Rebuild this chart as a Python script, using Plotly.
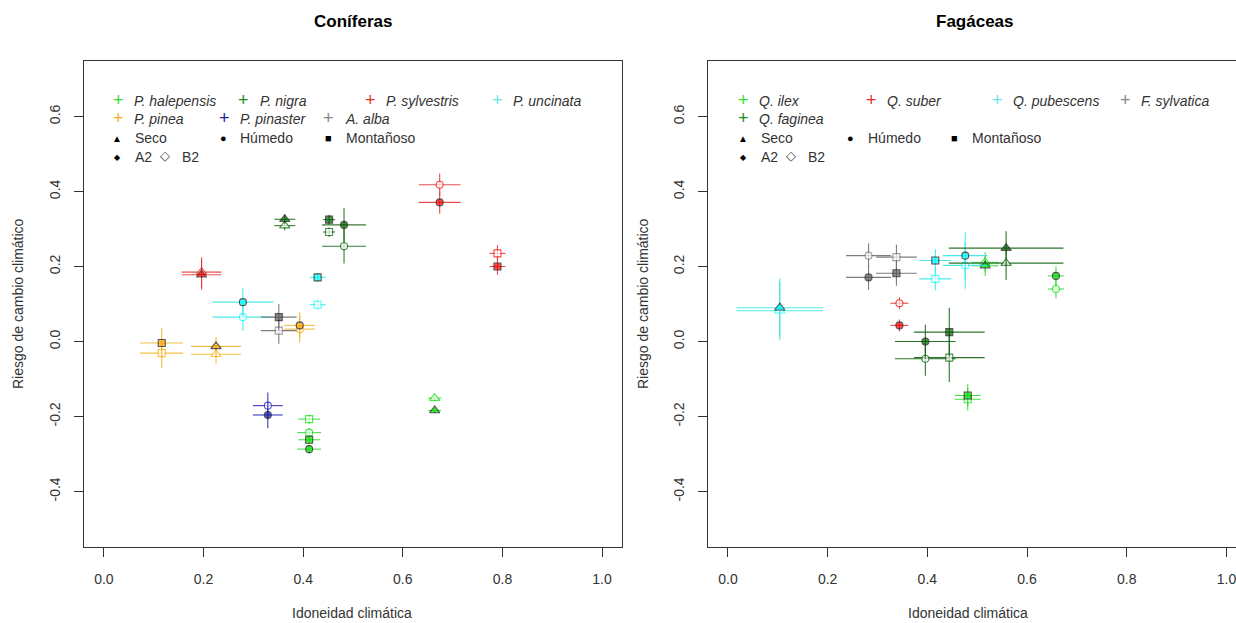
import plotly.graph_objects as go

W, H = 1236, 623

# ---------------- data: Coníferas ----------------
con_species = ["P. halepensis", "P. nigra", "P. sylvestris", "P. uncinata",
               "P. pinea", "P. pinaster", "A. alba"]
con_sp = ["P. halepensis"] * 3 + ["P. nigra"] * 3 + ["P. sylvestris"] * 3 + \
         ["P. uncinata"] * 2 + ["P. pinea"] * 3 + ["P. pinaster"] + ["A. alba"]
con_region = ["Seco", "Húmedo", "Montañoso", "Seco", "Húmedo", "Montañoso",
              "Seco", "Húmedo", "Montañoso", "Húmedo", "Montañoso",
              "Seco", "Húmedo", "Montañoso", "Húmedo", "Montañoso"]
con_x = [0.664, 0.412, 0.412, 0.363, 0.482, 0.452, 0.196, 0.674, 0.790,
         0.279, 0.429, 0.225, 0.393, 0.116, 0.329, 0.351]
con_y_a2 = [-0.184, -0.287, -0.262, 0.326, 0.311, 0.325, 0.178, 0.371, 0.200,
            0.105, 0.171, -0.013, 0.043, -0.004, -0.196, 0.065]
con_y_b2 = [-0.151, -0.243, -0.207, 0.309, 0.254, 0.292, 0.185, 0.418, 0.235,
            0.065, 0.098, -0.034, 0.033, -0.031, -0.171, 0.029]
con_x_err = [0.013, 0.024, 0.022, 0.021, 0.044, 0.012, 0.040, 0.042, 0.016,
             0.061, 0.016, 0.050, 0.031, 0.043, 0.030, 0.036]
con_y_err = [0.008, 0.012, 0.012, 0.012, 0.046, 0.013, 0.040, 0.030, 0.022,
             0.037, 0.012, 0.025, 0.035, 0.040, 0.035, 0.035]

# ---------------- data: Fagáceas ----------------
fag_species = ["Q. ilex", "Q. suber", "Q. pubescens", "F. sylvatica", "Q. faginea"]
fag_sp = ["Q. ilex"] * 3 + ["Q. suber"] + ["Q. pubescens"] * 3 + \
         ["F. sylvatica"] * 2 + ["Q. faginea"] * 3
fag_region = ["Seco", "Húmedo", "Montañoso", "Húmedo", "Seco", "Húmedo", "Montañoso",
              "Húmedo", "Montañoso", "Seco", "Húmedo", "Montañoso"]
fag_x = [0.516, 0.658, 0.481, 0.344, 0.104, 0.476, 0.416, 0.282, 0.338, 0.558, 0.396, 0.444]
fag_y_a2 = [0.202, 0.175, -0.144, 0.043, 0.090, 0.229, 0.216, 0.171, 0.182, 0.249, 0.000, 0.025]
fag_y_b2 = [0.211, 0.140, -0.154, 0.102, 0.082, 0.203, 0.167, 0.229, 0.225, 0.209, -0.046, -0.043]
fag_x_err = [0.027, 0.016, 0.026, 0.018, 0.087, 0.045, 0.032, 0.045, 0.041, 0.115, 0.061, 0.071]
fag_y_err = [0.027, 0.025, 0.030, 0.016, 0.078, 0.062, 0.030, 0.033, 0.033, 0.045, 0.045, 0.065]

tick_vals_x = [0.0, 0.2, 0.4, 0.6, 0.8, 1.0]
tick_text_x = ["0.0", "0.2", "0.4", "0.6", "0.8", "1.0"]
tick_vals_y = [-0.4, -0.2, 0.0, 0.2, 0.4, 0.6]
tick_text_y = ["-0.4", "-0.2", "0.0", "0.2", "0.4", "0.6"]

# ---------------- styles ----------------
fill_col = {
    "P. halepensis": "#00E000", "P. nigra": "#006400", "P. sylvestris": "#FF0000",
    "P. uncinata": "#00FFFF", "P. pinea": "#FFA500", "P. pinaster": "#1A1AB0",
    "A. alba": "#5A5A5A",
    "Q. ilex": "#00E000", "Q. suber": "#FF0000", "Q. pubescens": "#00FFFF",
    "F. sylvatica": "#5A5A5A", "Q. faginea": "#006400",
}
line_col = {
    "P. halepensis": "rgba(40,220,40,0.85)", "P. nigra": "rgba(20,100,20,0.85)",
    "P. sylvestris": "rgba(225,50,50,0.85)", "P. uncinata": "rgba(60,230,230,0.9)",
    "P. pinea": "rgba(240,185,50,0.9)", "P. pinaster": "rgba(40,40,180,0.9)",
    "A. alba": "rgba(110,110,110,0.9)",
    "Q. ilex": "rgba(40,220,40,0.85)", "Q. suber": "rgba(225,50,50,0.85)",
    "Q. pubescens": "rgba(60,230,230,0.9)", "F. sylvatica": "rgba(110,110,110,0.9)",
    "Q. faginea": "rgba(20,100,20,0.9)",
}
legend_col = {
    "P. halepensis": "#33DD33", "P. nigra": "#228B22", "P. sylvestris": "#E03030",
    "P. uncinata": "#66E8E8", "P. pinea": "#F0B030", "P. pinaster": "#2020A0",
    "A. alba": "#888888",
    "Q. ilex": "#33DD33", "Q. suber": "#E03030", "Q. pubescens": "#66E8E8",
    "F. sylvatica": "#888888", "Q. faginea": "#228B22",
}
symbol_of = {"Seco": "triangle-up", "Húmedo": "circle", "Montañoso": "square"}
size_of = {"Seco": 9, "Húmedo": 7, "Montañoso": 7}

FONT = "Liberation Sans, Arial, sans-serif"
TXT = "#333333"

fig = go.Figure()


def add_panel(species, sp, region, xs, ya2, yb2, xerr, yerr, xa, ya):
    for s in species:
        idx = [i for i, v in enumerate(sp) if v == s]
        for scen, yv in (("B2", yb2), ("A2", ya2)):
            filled = scen == "A2"
            if filled:
                edge = "#111111"
            elif s in ("A. alba", "F. sylvatica"):
                edge = "#777777"
            else:
                edge = fill_col[s]
            fig.add_trace(go.Scatter(
                x=[xs[i] for i in idx], y=[yv[i] for i in idx],
                xaxis=xa, yaxis=ya, mode="markers", showlegend=False,
                name=f"{s} {scen}",
                marker=dict(
                    symbol=[symbol_of[region[i]] for i in idx],
                    size=[size_of[region[i]] for i in idx],
                    color=fill_col[s] if filled else "white",
                    line=dict(color=edge, width=1.1),
                ),
                error_x=dict(type="data", array=[xerr[i] for i in idx], visible=True,
                             color=line_col[s], thickness=1.1, width=0),
                error_y=dict(type="data", array=[yerr[i] for i in idx], visible=True,
                             color=line_col[s], thickness=1.1, width=0),
            ))


add_panel(con_species, con_sp, con_region, con_x, con_y_a2, con_y_b2,
          con_x_err, con_y_err, "x", "y")
add_panel(fag_species, fag_sp, fag_region, fag_x, fag_y_a2, fag_y_b2,
          fag_x_err, fag_y_err, "x2", "y2")

annotations = []


def ann(px, py, text, color=TXT, size=14, italic=False, bold=False,
        xanchor="left", angle=0):
    t = text
    if italic:
        t = f"<i>{t}</i>"
    if bold:
        t = f"<b>{t}</b>"
    annotations.append(dict(
        x=px / W, y=1 - py / H, xref="paper", yref="paper", text=t,
        showarrow=False, xanchor=xanchor, yanchor="middle", textangle=angle,
        font=dict(family=FONT, size=size, color=color),
    ))


def plus(px, py, s):
    ann(px, py, "+", color=legend_col[s], size=18, xanchor="center")


# legend
r1, r2, r3, r4 = 101, 119, 138, 157
con_leg = [("P. halepensis", 118, r1), ("P. nigra", 244, r1), ("P. sylvestris", 370, r1),
           ("P. uncinata", 497, r1), ("P. pinea", 118, r2), ("P. pinaster", 224, r2),
           ("A. alba", 329, r2)]
for s, px, py in con_leg:
    plus(px, py - 1, s)
    ann(px + 14, py, s, italic=True)
fag_leg = [("Q. ilex", 743, r1), ("Q. suber", 871, r1), ("Q. pubescens", 997, r1),
           ("F. sylvatica", 1125, r1), ("Q. faginea", 743, r2)]
for s, px, py in fag_leg:
    plus(px, py - 1, s)
    ann(px + 14, py, s, italic=True)

for x0, xh, xm in ((117, 223, 329), (743, 851, 955)):
    ann(x0, r3, "▲", color="black", size=10, xanchor="center")
    ann(x0 + 16, r3, "Seco")
    ann(xh, r3, "●", color="black", size=11, xanchor="center")
    ann(xh + 15, r3, "Húmedo")
    ann(xm, r3, "■", color="black", size=11, xanchor="center")
    ann(xm + 15, r3, "Montañoso")
for x0, xb in ((117, 165), (743, 791)):
    ann(x0, r4, "◆", color="black", size=8, xanchor="center")
    ann(x0 + 16, r4, "A2")
    ann(xb, r4 - 2, "◇", color="#444444", size=13, xanchor="center")
    ann(xb + 15, r4, "B2")

# titles and axis labels
ann(353, 22, "Coníferas", color="black", size=17, bold=True, xanchor="center")
ann(975, 22, "Fagáceas", color="black", size=17, bold=True, xanchor="center")
ann(352, 613, "Idoneidad climática", size=14, xanchor="center")
ann(968, 613, "Idoneidad climática", size=14, xanchor="center")
ann(18, 304, "Riesgo de cambio climático", size=14, xanchor="center", angle=-90)
ann(643, 304, "Riesgo de cambio climático", size=14, xanchor="center", angle=-90)

ydom = [1 - 547 / H, 1 - 61 / H]
common_x = dict(tickvals=tick_vals_x, ticktext=tick_text_x, showgrid=False, zeroline=False,
                showline=True, linecolor="#333333", linewidth=1, ticks="outside",
                ticklen=9, tickcolor="#333333", tickwidth=1,
                tickfont=dict(family=FONT, size=14, color=TXT), automargin=False,
                ticklabelstandoff=10, ticklabeloverflow="allow")
common_y = dict(tickvals=tick_vals_y, ticktext=tick_text_y, showgrid=False, zeroline=False,
                showline=True, linecolor="#333333", linewidth=1, ticks="outside",
                ticklen=9, tickcolor="#333333", tickwidth=1, tickangle=-90,
                tickfont=dict(family=FONT, size=14, color=TXT), automargin=False,
                range=[-0.548, 0.748], domain=ydom, ticklabelstandoff=8)

fig.update_layout(
    width=W, height=H, autosize=False,
    margin=dict(l=0, r=0, t=0, b=0),
    paper_bgcolor="white", plot_bgcolor="white",
    showlegend=False,
    annotations=annotations,
    xaxis=dict(domain=[84 / W, 622 / W], range=[-0.04, 1.04], anchor="y",
               mirror=True, **common_x),
    yaxis=dict(anchor="x", mirror=True, **common_y),
    xaxis2=dict(domain=[708 / W, 1.0], range=[-0.04, -0.04 + (W - 708) / 498.5],
                anchor="y2", mirror=True, **common_x),
    yaxis2=dict(anchor="x2", mirror=False, **common_y),
)

fig.write_html(
    "out.html",
    config={"displayModeBar": False},
    post_script="document.body.style.margin='0';document.body.style.overflow='hidden';",
)
